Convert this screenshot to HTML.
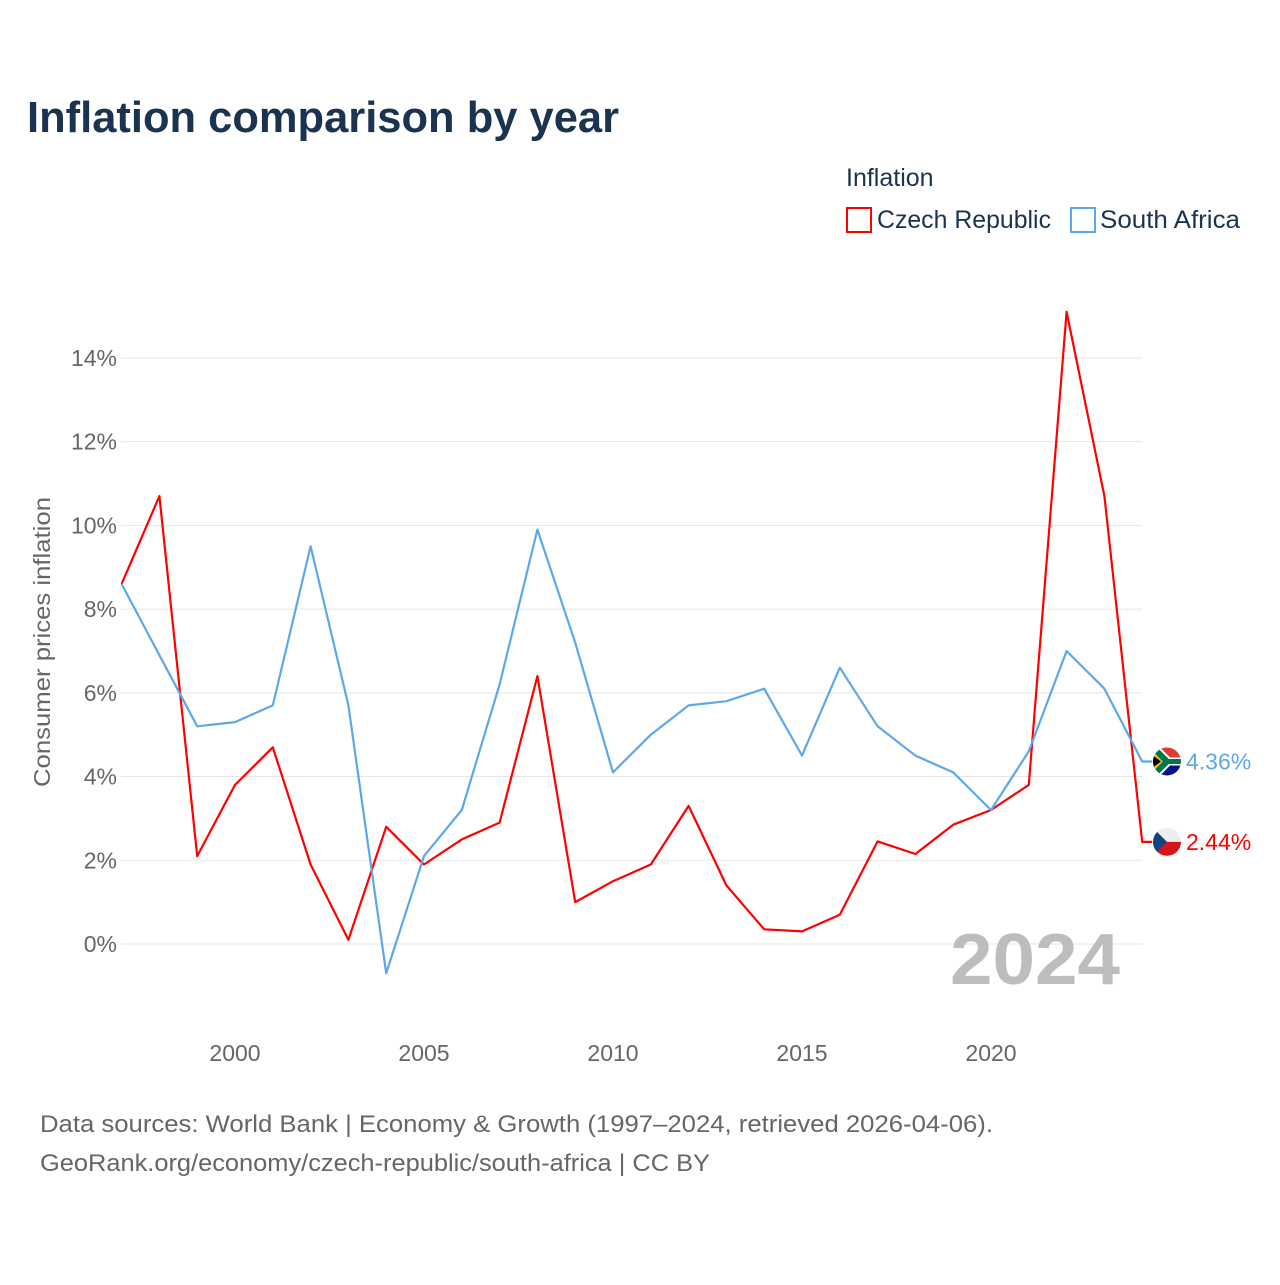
<!DOCTYPE html>
<html><head><meta charset="utf-8">
<style>
body{margin:0;background:#fff;font-family:"Liberation Sans",sans-serif;}
svg text{font-family:"Liberation Sans",sans-serif;}
</style></head>
<body>
<svg width="1280" height="1280" xmlns="http://www.w3.org/2000/svg">
<defs>
<clipPath id="clipSA"><circle id="cSA" cx="1167" cy="0" r="14"/></clipPath>
<clipPath id="clipCZ"><circle id="cCZ" cx="1167" cy="0" r="14"/></clipPath>
</defs>
<rect width="1280" height="1280" fill="#fff"/>
<text x="27" y="132" font-size="44" font-weight="bold" fill="#1b3350" textLength="592" lengthAdjust="spacingAndGlyphs">Inflation comparison by year</text>
<text x="846" y="186" font-size="25" fill="#1b3350">Inflation</text>
<g><rect x="847" y="208" width="24" height="24" fill="none" stroke="#ff0000" stroke-width="2"/><text x="877" y="228" font-size="25" fill="#1b3350" textLength="174" lengthAdjust="spacingAndGlyphs">Czech Republic</text></g>
<g><rect x="1071" y="208" width="24" height="24" fill="none" stroke="#5ca8ea" stroke-width="2"/><text x="1100" y="228" font-size="25" fill="#1b3350" textLength="140" lengthAdjust="spacingAndGlyphs">South Africa</text></g>
<g id="grid"></g>
<g id="yticks"></g>
<g id="xticks"></g>
<text x="950" y="984" font-size="72" font-weight="bold" fill="#bdbdbd" textLength="170" lengthAdjust="spacingAndGlyphs">2024</text>
<text transform="translate(50,642) rotate(-90)" text-anchor="middle" font-size="23" fill="#666" textLength="290" lengthAdjust="spacingAndGlyphs">Consumer prices inflation</text>
<g id="series"></g>
<text x="40" y="1132" font-size="24" fill="#666" textLength="953" lengthAdjust="spacingAndGlyphs">Data sources: World Bank | Economy &amp; Growth (1997–2024, retrieved 2026-04-06).</text>
<text x="40" y="1171" font-size="24" fill="#666" textLength="670" lengthAdjust="spacingAndGlyphs">GeoRank.org/economy/czech-republic/south-africa | CC BY</text>
</svg>
<script>
const years=[1997,1998,1999,2000,2001,2002,2003,2004,2005,2006,2007,2008,2009,2010,2011,2012,2013,2014,2015,2016,2017,2018,2019,2020,2021,2022,2023,2024];
const czech=[8.6,10.7,2.1,3.8,4.7,1.9,0.1,2.8,1.9,2.5,2.9,6.4,1.0,1.5,1.9,3.3,1.4,0.35,0.3,0.7,2.45,2.15,2.85,3.2,3.8,15.1,10.7,2.44];
const southAfrica=[8.6,6.9,5.2,5.3,5.7,9.5,5.7,-0.7,2.1,3.2,6.2,9.9,7.2,4.1,5.0,5.7,5.8,6.1,4.5,6.6,5.2,4.5,4.1,3.2,4.6,7.0,6.1,4.36];
const yTicks=[0,2,4,6,8,10,12,14];
const xTicks=[2000,2005,2010,2015,2020];
const NS='http://www.w3.org/2000/svg';
const x=v=>121.6+(v-1997)*37.8;
const y=v=>944-v*41.86;
const mk=(t,a,p)=>{const e=document.createElementNS(NS,t);for(const k in a)e.setAttribute(k,a[k]);(typeof p==='string'?document.getElementById(p):p).appendChild(e);return e;};
yTicks.forEach(v=>{
  const l=mk('line',{x1:121,x2:1142,y1:y(v),y2:y(v),stroke:'#e6e6e6','stroke-width':1},'grid');
  
  
  const t=mk('text',{x:117,y:y(v)+8,'text-anchor':'end','font-size':23,fill:'#666'},'yticks');
  t.textContent=v+'%';
  
  
});
xTicks.forEach(v=>{
  const t=mk('text',{x:x(v),y:1061,'text-anchor':'middle','font-size':23,fill:'#666'},'xticks');
  t.textContent=v;
  
  
});
function flag(kind,cy){
  const g=mk('g',{'clip-path':'url(#clip'+kind+')'},'series');
  
  
  document.getElementById('c'+kind).setAttribute('cy',cy);
  const X=1153,Y=cy-14;
  if(kind==='CZ'){
    mk('rect',{x:X,y:Y,width:28,height:14,fill:'#eeeeee'},g);
    mk('rect',{x:X,y:cy,width:28,height:14,fill:'#d7141a'},g);
    mk('path',{d:`M${X},${Y} L${X+14},${cy} L${X},${Y+28}Z`,fill:'#11457e'},g);
  }else{
    mk('rect',{x:X,y:Y,width:28,height:14,fill:'#e03c31'},g);
    mk('rect',{x:X,y:cy,width:28,height:14,fill:'#001489'},g);
    mk('path',{d:`M${X},${Y} L${X+14},${cy} L${X},${Y+28}`,fill:'none',stroke:'#fff',"stroke-width":10},g);
    mk('rect',{x:X+10,y:cy-4,width:20,height:8,fill:'#fff'},g);
    mk('path',{d:`M${X},${Y} L${X+14},${cy} L${X},${Y+28}`,fill:'none',stroke:'#007749',"stroke-width":6},g);
    mk('rect',{x:X+12,y:cy-2.5,width:18,height:5,fill:'#007749'},g);
    mk('path',{d:`M${X},${Y+5} L${X+10},${cy} L${X},${Y+23}Z`,fill:'#ffb81c'},g);
    mk('path',{d:`M${X},${Y+8} L${X+8},${cy} L${X},${Y+20}Z`,fill:'#000'},g);
  }
}
function draw(vals,color,name,kind){
  let d=vals.map((v,i)=>(i?'L':'M')+x(years[i]).toFixed(1)+','+y(v).toFixed(1)).join(' ');
  const last=vals[vals.length-1];
  d+=' L'+(x(years[years.length-1])+10)+','+y(last).toFixed(1);
  const p=mk('path',{d:d,fill:'none',stroke:color,'stroke-width':2.2,'stroke-linejoin':'round'},'series');
  
  
  flag(kind,y(last));
  const t=mk('text',{x:1186,y:y(last)+8,'font-size':23,fill:color},'series');
  t.textContent=last.toFixed(2)+'%';
  
  
}
draw(czech,'#ff0000','czech-republic','CZ');
draw(southAfrica,'#5ca8ea','south-africa','SA');
</script>
</body></html>
